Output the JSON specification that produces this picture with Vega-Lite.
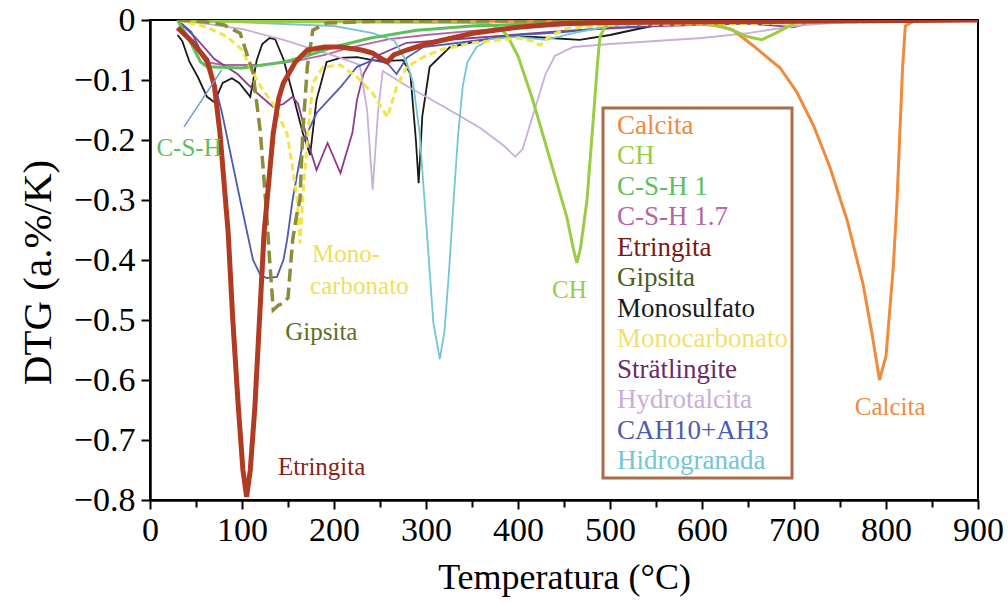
{
  "$schema": "https://vega.github.io/schema/vega-lite/v6.json",
  "width": 828,
  "height": 480,
  "autosize": {"type": "none"},
  "padding": {"left": 150, "top": 20, "right": 30, "bottom": 103},
  "background": "white",
  "config": {"view": {"stroke": "black", "strokeWidth": 2}, "font": "Liberation Serif"},
  "datasets": {
    "curves": [
      {"series":"Calcita","T":30,"v":0},{"series":"Calcita","T":200,"v":-0.001},{"series":"Calcita","T":400,"v":-0.002},{"series":"Calcita","T":550,"v":-0.004},{"series":"Calcita","T":600,"v":-0.007},{"series":"Calcita","T":620,"v":-0.01},{"series":"Calcita","T":634,"v":-0.017},{"series":"Calcita","T":655,"v":-0.042},{"series":"Calcita","T":685,"v":-0.08},{"series":"Calcita","T":703,"v":-0.12},{"series":"Calcita","T":721,"v":-0.175},{"series":"Calcita","T":739,"v":-0.245},{"series":"Calcita","T":758,"v":-0.335},{"series":"Calcita","T":775,"v":-0.44},{"series":"Calcita","T":785,"v":-0.525},{"series":"Calcita","T":793,"v":-0.6},{"series":"Calcita","T":800,"v":-0.56},{"series":"Calcita","T":808,"v":-0.41},{"series":"Calcita","T":812,"v":-0.3},{"series":"Calcita","T":815,"v":-0.19},{"series":"Calcita","T":818,"v":-0.08},{"series":"Calcita","T":821,"v":-0.01},{"series":"Calcita","T":830,"v":-0.002},{"series":"Calcita","T":900,"v":0},

      {"series":"CH","T":30,"v":-0.002},{"series":"CH","T":200,"v":-0.003},{"series":"CH","T":350,"v":-0.004},{"series":"CH","T":370,"v":-0.008},{"series":"CH","T":380,"v":-0.014},{"series":"CH","T":388,"v":-0.025},{"series":"CH","T":400,"v":-0.06},{"series":"CH","T":416,"v":-0.133},{"series":"CH","T":435,"v":-0.233},{"series":"CH","T":453,"v":-0.328},{"series":"CH","T":460,"v":-0.38},{"series":"CH","T":464,"v":-0.405},{"series":"CH","T":468,"v":-0.38},{"series":"CH","T":475,"v":-0.3},{"series":"CH","T":482,"v":-0.162},{"series":"CH","T":486,"v":-0.08},{"series":"CH","T":489,"v":-0.028},{"series":"CH","T":495,"v":-0.01},{"series":"CH","T":520,"v":-0.004},{"series":"CH","T":600,"v":-0.004},{"series":"CH","T":630,"v":-0.015},{"series":"CH","T":650,"v":-0.028},{"series":"CH","T":665,"v":-0.033},{"series":"CH","T":680,"v":-0.022},{"series":"CH","T":700,"v":-0.006},{"series":"CH","T":720,"v":-0.002},{"series":"CH","T":900,"v":0},

      {"series":"C-S-H 1","T":30,"v":0},{"series":"C-S-H 1","T":45,"v":-0.04},{"series":"C-S-H 1","T":55,"v":-0.07},{"series":"C-S-H 1","T":62,"v":-0.078},{"series":"C-S-H 1","T":100,"v":-0.08},{"series":"C-S-H 1","T":146,"v":-0.07},{"series":"C-S-H 1","T":170,"v":-0.06},{"series":"C-S-H 1","T":200,"v":-0.045},{"series":"C-S-H 1","T":240,"v":-0.03},{"series":"C-S-H 1","T":290,"v":-0.017},{"series":"C-S-H 1","T":350,"v":-0.01},{"series":"C-S-H 1","T":450,"v":-0.005},{"series":"C-S-H 1","T":600,"v":-0.002},{"series":"C-S-H 1","T":900,"v":0},

      {"series":"C-S-H 1.7","T":30,"v":0},{"series":"C-S-H 1.7","T":45,"v":-0.035},{"series":"C-S-H 1.7","T":60,"v":-0.07},{"series":"C-S-H 1.7","T":80,"v":-0.075},{"series":"C-S-H 1.7","T":120,"v":-0.075},{"series":"C-S-H 1.7","T":160,"v":-0.068},{"series":"C-S-H 1.7","T":190,"v":-0.058},{"series":"C-S-H 1.7","T":220,"v":-0.045},{"series":"C-S-H 1.7","T":260,"v":-0.032},{"series":"C-S-H 1.7","T":300,"v":-0.025},{"series":"C-S-H 1.7","T":350,"v":-0.018},{"series":"C-S-H 1.7","T":400,"v":-0.012},{"series":"C-S-H 1.7","T":500,"v":-0.006},{"series":"C-S-H 1.7","T":600,"v":-0.003},{"series":"C-S-H 1.7","T":700,"v":-0.006},{"series":"C-S-H 1.7","T":750,"v":-0.002},{"series":"C-S-H 1.7","T":900,"v":0},

      {"series":"Etringita","T":30,"v":-0.013},{"series":"Etringita","T":45,"v":-0.035},{"series":"Etringita","T":62,"v":-0.067},{"series":"Etringita","T":70,"v":-0.11},{"series":"Etringita","T":76,"v":-0.188},{"series":"Etringita","T":85,"v":-0.355},{"series":"Etringita","T":90,"v":-0.5},{"series":"Etringita","T":96,"v":-0.645},{"series":"Etringita","T":101,"v":-0.75},{"series":"Etringita","T":105,"v":-0.795},{"series":"Etringita","T":109,"v":-0.75},{"series":"Etringita","T":114,"v":-0.645},{"series":"Etringita","T":119,"v":-0.5},{"series":"Etringita","T":124,"v":-0.355},{"series":"Etringita","T":134,"v":-0.188},{"series":"Etringita","T":140,"v":-0.13},{"series":"Etringita","T":145,"v":-0.105},{"series":"Etringita","T":158,"v":-0.07},{"series":"Etringita","T":171,"v":-0.05},{"series":"Etringita","T":190,"v":-0.045},{"series":"Etringita","T":207,"v":-0.045},{"series":"Etringita","T":230,"v":-0.05},{"series":"Etringita","T":242,"v":-0.055},{"series":"Etringita","T":250,"v":-0.063},{"series":"Etringita","T":258,"v":-0.07},{"series":"Etringita","T":265,"v":-0.058},{"series":"Etringita","T":279,"v":-0.05},{"series":"Etringita","T":300,"v":-0.04},{"series":"Etringita","T":351,"v":-0.022},{"series":"Etringita","T":400,"v":-0.012},{"series":"Etringita","T":450,"v":-0.006},{"series":"Etringita","T":500,"v":-0.004},{"series":"Etringita","T":700,"v":-0.002},{"series":"Etringita","T":900,"v":0},

      {"series":"Gipsita","T":30,"v":0},{"series":"Gipsita","T":60,"v":-0.003},{"series":"Gipsita","T":80,"v":-0.008},{"series":"Gipsita","T":98,"v":-0.022},{"series":"Gipsita","T":112,"v":-0.088},{"series":"Gipsita","T":120,"v":-0.188},{"series":"Gipsita","T":127,"v":-0.328},{"series":"Gipsita","T":130,"v":-0.4},{"series":"Gipsita","T":134,"v":-0.483},{"series":"Gipsita","T":140,"v":-0.475},{"series":"Gipsita","T":145,"v":-0.472},{"series":"Gipsita","T":150,"v":-0.463},{"series":"Gipsita","T":155,"v":-0.367},{"series":"Gipsita","T":160,"v":-0.32},{"series":"Gipsita","T":163,"v":-0.3},{"series":"Gipsita","T":166,"v":-0.188},{"series":"Gipsita","T":171,"v":-0.078},{"series":"Gipsita","T":177,"v":-0.017},{"series":"Gipsita","T":192,"v":-0.005},{"series":"Gipsita","T":250,"v":-0.002},{"series":"Gipsita","T":900,"v":0},

      {"series":"Monosulfato","T":30,"v":-0.025},{"series":"Monosulfato","T":35,"v":-0.035},{"series":"Monosulfato","T":43,"v":-0.07},{"series":"Monosulfato","T":52,"v":-0.095},{"series":"Monosulfato","T":62,"v":-0.128},{"series":"Monosulfato","T":70,"v":-0.137},{"series":"Monosulfato","T":79,"v":-0.105},{"series":"Monosulfato","T":89,"v":-0.097},{"series":"Monosulfato","T":97,"v":-0.105},{"series":"Monosulfato","T":109,"v":-0.128},{"series":"Monosulfato","T":116,"v":-0.067},{"series":"Monosulfato","T":122,"v":-0.04},{"series":"Monosulfato","T":130,"v":-0.03},{"series":"Monosulfato","T":136,"v":-0.032},{"series":"Monosulfato","T":145,"v":-0.065},{"series":"Monosulfato","T":155,"v":-0.122},{"series":"Monosulfato","T":166,"v":-0.188},{"series":"Monosulfato","T":174,"v":-0.225},{"series":"Monosulfato","T":181,"v":-0.133},{"series":"Monosulfato","T":192,"v":-0.07},{"series":"Monosulfato","T":207,"v":-0.063},{"series":"Monosulfato","T":225,"v":-0.062},{"series":"Monosulfato","T":242,"v":-0.067},{"series":"Monosulfato","T":258,"v":-0.068},{"series":"Monosulfato","T":275,"v":-0.067},{"series":"Monosulfato","T":283,"v":-0.09},{"series":"Monosulfato","T":289,"v":-0.2},{"series":"Monosulfato","T":292,"v":-0.272},{"series":"Monosulfato","T":296,"v":-0.16},{"series":"Monosulfato","T":304,"v":-0.078},{"series":"Monosulfato","T":326,"v":-0.045},{"series":"Monosulfato","T":351,"v":-0.037},{"series":"Monosulfato","T":380,"v":-0.028},{"series":"Monosulfato","T":416,"v":-0.028},{"series":"Monosulfato","T":435,"v":-0.03},{"series":"Monosulfato","T":467,"v":-0.033},{"series":"Monosulfato","T":500,"v":-0.025},{"series":"Monosulfato","T":530,"v":-0.015},{"series":"Monosulfato","T":562,"v":-0.005},{"series":"Monosulfato","T":600,"v":-0.002},{"series":"Monosulfato","T":900,"v":0},

      {"series":"Monocarbonato","T":30,"v":0},{"series":"Monocarbonato","T":62,"v":-0.012},{"series":"Monocarbonato","T":84,"v":-0.028},{"series":"Monocarbonato","T":100,"v":-0.05},{"series":"Monocarbonato","T":111,"v":-0.085},{"series":"Monocarbonato","T":122,"v":-0.115},{"series":"Monocarbonato","T":134,"v":-0.14},{"series":"Monocarbonato","T":149,"v":-0.19},{"series":"Monocarbonato","T":155,"v":-0.245},{"series":"Monocarbonato","T":160,"v":-0.3},{"series":"Monocarbonato","T":163,"v":-0.372},{"series":"Monocarbonato","T":166,"v":-0.3},{"series":"Monocarbonato","T":171,"v":-0.2},{"series":"Monocarbonato","T":177,"v":-0.105},{"series":"Monocarbonato","T":188,"v":-0.078},{"series":"Monocarbonato","T":207,"v":-0.075},{"series":"Monocarbonato","T":225,"v":-0.095},{"series":"Monocarbonato","T":242,"v":-0.122},{"series":"Monocarbonato","T":258,"v":-0.162},{"series":"Monocarbonato","T":268,"v":-0.112},{"series":"Monocarbonato","T":279,"v":-0.078},{"series":"Monocarbonato","T":297,"v":-0.062},{"series":"Monocarbonato","T":315,"v":-0.05},{"series":"Monocarbonato","T":351,"v":-0.038},{"series":"Monocarbonato","T":400,"v":-0.03},{"series":"Monocarbonato","T":415,"v":-0.035},{"series":"Monocarbonato","T":424,"v":-0.042},{"series":"Monocarbonato","T":432,"v":-0.03},{"series":"Monocarbonato","T":450,"v":-0.015},{"series":"Monocarbonato","T":500,"v":-0.008},{"series":"Monocarbonato","T":700,"v":-0.005},{"series":"Monocarbonato","T":800,"v":-0.003},{"series":"Monocarbonato","T":900,"v":0},

      {"series":"Strätlingite","T":30,"v":0},{"series":"Strätlingite","T":50,"v":-0.03},{"series":"Strätlingite","T":70,"v":-0.065},{"series":"Strätlingite","T":95,"v":-0.09},{"series":"Strätlingite","T":115,"v":-0.12},{"series":"Strätlingite","T":134,"v":-0.145},{"series":"Strätlingite","T":145,"v":-0.14},{"series":"Strätlingite","T":155,"v":-0.128},{"series":"Strätlingite","T":161,"v":-0.14},{"series":"Strätlingite","T":172,"v":-0.205},{"series":"Strätlingite","T":181,"v":-0.25},{"series":"Strätlingite","T":193,"v":-0.205},{"series":"Strätlingite","T":207,"v":-0.255},{"series":"Strätlingite","T":220,"v":-0.188},{"series":"Strätlingite","T":225,"v":-0.133},{"series":"Strätlingite","T":232,"v":-0.09},{"series":"Strätlingite","T":242,"v":-0.063},{"series":"Strätlingite","T":279,"v":-0.038},{"series":"Strätlingite","T":351,"v":-0.03},{"series":"Strätlingite","T":450,"v":-0.018},{"series":"Strätlingite","T":550,"v":-0.01},{"series":"Strätlingite","T":650,"v":-0.006},{"series":"Strätlingite","T":700,"v":-0.012},{"series":"Strätlingite","T":720,"v":-0.004},{"series":"Strätlingite","T":900,"v":0},

      {"series":"Hydrotalcita","T":30,"v":0},{"series":"Hydrotalcita","T":60,"v":-0.006},{"series":"Hydrotalcita","T":100,"v":-0.015},{"series":"Hydrotalcita","T":145,"v":-0.033},{"series":"Hydrotalcita","T":207,"v":-0.063},{"series":"Hydrotalcita","T":228,"v":-0.075},{"series":"Hydrotalcita","T":236,"v":-0.15},{"series":"Hydrotalcita","T":242,"v":-0.283},{"series":"Hydrotalcita","T":248,"v":-0.15},{"series":"Hydrotalcita","T":253,"v":-0.085},{"series":"Hydrotalcita","T":279,"v":-0.11},{"series":"Hydrotalcita","T":320,"v":-0.145},{"series":"Hydrotalcita","T":359,"v":-0.18},{"series":"Hydrotalcita","T":385,"v":-0.21},{"series":"Hydrotalcita","T":397,"v":-0.228},{"series":"Hydrotalcita","T":405,"v":-0.215},{"series":"Hydrotalcita","T":418,"v":-0.15},{"series":"Hydrotalcita","T":430,"v":-0.09},{"series":"Hydrotalcita","T":440,"v":-0.06},{"series":"Hydrotalcita","T":460,"v":-0.045},{"series":"Hydrotalcita","T":500,"v":-0.04},{"series":"Hydrotalcita","T":550,"v":-0.035},{"series":"Hydrotalcita","T":600,"v":-0.03},{"series":"Hydrotalcita","T":650,"v":-0.022},{"series":"Hydrotalcita","T":700,"v":-0.01},{"series":"Hydrotalcita","T":750,"v":-0.004},{"series":"Hydrotalcita","T":900,"v":0},

      {"series":"CAH10+AH3","T":30,"v":0},{"series":"CAH10+AH3","T":45,"v":-0.02},{"series":"CAH10+AH3","T":60,"v":-0.067},{"series":"CAH10+AH3","T":71,"v":-0.11},{"series":"CAH10+AH3","T":79,"v":-0.16},{"series":"CAH10+AH3","T":98,"v":-0.3},{"series":"CAH10+AH3","T":112,"v":-0.4},{"series":"CAH10+AH3","T":120,"v":-0.425},{"series":"CAH10+AH3","T":127,"v":-0.43},{"series":"CAH10+AH3","T":138,"v":-0.428},{"series":"CAH10+AH3","T":145,"v":-0.4},{"series":"CAH10+AH3","T":149,"v":-0.367},{"series":"CAH10+AH3","T":155,"v":-0.3},{"series":"CAH10+AH3","T":166,"v":-0.205},{"series":"CAH10+AH3","T":181,"v":-0.155},{"series":"CAH10+AH3","T":207,"v":-0.112},{"series":"CAH10+AH3","T":225,"v":-0.078},{"series":"CAH10+AH3","T":242,"v":-0.067},{"series":"CAH10+AH3","T":258,"v":-0.072},{"series":"CAH10+AH3","T":268,"v":-0.09},{"series":"CAH10+AH3","T":279,"v":-0.063},{"series":"CAH10+AH3","T":297,"v":-0.045},{"series":"CAH10+AH3","T":351,"v":-0.035},{"series":"CAH10+AH3","T":400,"v":-0.025},{"series":"CAH10+AH3","T":450,"v":-0.02},{"series":"CAH10+AH3","T":500,"v":-0.012},{"series":"CAH10+AH3","T":600,"v":-0.005},{"series":"CAH10+AH3","T":700,"v":-0.003},{"series":"CAH10+AH3","T":900,"v":0},

      {"series":"Hidrogranada","T":30,"v":0},{"series":"Hidrogranada","T":100,"v":-0.004},{"series":"Hidrogranada","T":200,"v":-0.01},{"series":"Hidrogranada","T":242,"v":-0.022},{"series":"Hidrogranada","T":266,"v":-0.035},{"series":"Hidrogranada","T":279,"v":-0.07},{"series":"Hidrogranada","T":286,"v":-0.105},{"series":"Hidrogranada","T":293,"v":-0.188},{"series":"Hidrogranada","T":301,"v":-0.355},{"series":"Hidrogranada","T":308,"v":-0.505},{"series":"Hidrogranada","T":315,"v":-0.565},{"series":"Hidrogranada","T":320,"v":-0.52},{"series":"Hidrogranada","T":325,"v":-0.42},{"series":"Hidrogranada","T":330,"v":-0.3},{"series":"Hidrogranada","T":335,"v":-0.19},{"series":"Hidrogranada","T":340,"v":-0.11},{"series":"Hidrogranada","T":345,"v":-0.07},{"series":"Hidrogranada","T":355,"v":-0.045},{"series":"Hidrogranada","T":370,"v":-0.032},{"series":"Hidrogranada","T":400,"v":-0.028},{"series":"Hidrogranada","T":430,"v":-0.033},{"series":"Hidrogranada","T":460,"v":-0.022},{"series":"Hidrogranada","T":500,"v":-0.01},{"series":"Hidrogranada","T":600,"v":-0.003},{"series":"Hidrogranada","T":900,"v":0}
    ],
    "notes": [
      {"series":"C-S-H 1","label":"C-S-H","T":7,"v":-0.213},
      {"series":"Monocarbonato","label":"Mono-","T":176,"v":-0.39},
      {"series":"Monocarbonato","label":"carbonato","T":174,"v":-0.443},
      {"series":"Gipsita","label":"Gipsita","T":147,"v":-0.52},
      {"series":"Etringita","label":"Etringita","T":139,"v":-0.745},
      {"series":"CH","label":"CH","T":437,"v":-0.45},
      {"series":"Calcita","label":"Calcita","T":766,"v":-0.645}
    ],
    "pointer": [
      {"T":37,"v":-0.178,"T2":78,"v2":-0.083}
    ]
  },
  "encoding": {
    "x": {
      "field": "T", "type": "quantitative",
      "scale": {"domain": [0, 900], "nice": false, "zero": false},
      "axis": {
        "title": "Temperatura (°C)",
        "values": [0,50,100,150,200,250,300,350,400,450,500,550,600,650,700,750,800,850,900],
        "labelExpr": "datum.value % 100 === 0 ? format(datum.value, 'd') : ''",
        "labelFlush": false, "labelOverlap": false,
        "labelFont": "Liberation Serif", "labelFontSize": 34, "labelColor": "black", "labelPadding": 4,
        "titleFont": "Liberation Serif", "titleFontSize": 36, "titleFontWeight": "normal", "titleColor": "black", "titlePadding": 13,
        "tickSize": {"condition": {"test": "datum.value % 100 === 0", "value": 9}, "value": 7},
        "tickWidth": 2, "tickColor": "black", "domainColor": "black", "domainWidth": 2.5, "grid": false
      }
    },
    "y": {
      "field": "v", "type": "quantitative",
      "scale": {"domain": [-0.8, 0], "nice": false, "zero": false},
      "axis": {
        "title": "DTG (a.%/K)",
        "values": [-0.8,-0.7,-0.6,-0.5,-0.4,-0.3,-0.2,-0.1,0],
        "labelExpr": "datum.value === 0 ? '0' : format(datum.value, '.1f')",
        "labelFont": "Liberation Serif", "labelFontSize": 34, "labelColor": "black", "labelPadding": 6,
        "titleFont": "Liberation Serif", "titleFontSize": 41, "titleFontWeight": "normal", "titleColor": "black", "titlePadding": 14, "titleY": 252,
        "tickSize": 9, "tickWidth": 2, "tickColor": "black", "domainColor": "black", "domainWidth": 2.5, "grid": false
      }
    }
  },
  "layer": [
    {
      "data": {"name": "curves"},
      "transform": [{"filter": {"field": "series", "oneOf": ["Hydrotalcita","C-S-H 1.7","Strätlingite","CAH10+AH3","Hidrogranada","Monosulfato"]}}],
      "mark": {"type": "line", "strokeWidth": 1.8, "clip": true},
      "encoding": {
        "color": {
          "field": "series", "type": "nominal",
          "scale": {
            "domain": ["Calcita","CH","C-S-H 1","C-S-H 1.7","Etringita","Gipsita","Monosulfato","Monocarbonato","Strätlingite","Hydrotalcita","CAH10+AH3","Hidrogranada"],
            "range": ["#f08a3c","#9acd45","#5cbf5c","#b565a7","#b03a22","#8c8c3a","#1a1a1a","#f2e446","#8e3a8e","#c8aed8","#4b5bb5","#72c6d6"]
          },
          "legend": {
            "title": null, "orient": "none", "legendX": 453, "legendY": 88,
            "symbolSize": 0, "symbolStrokeWidth": 0, "symbolOpacity": 0,
            "labelOffset": -17, "labelFont": "Liberation Serif", "labelFontSize": 27, "labelLimit": 400,
            "rowPadding": 2.5, "padding": 4,
            "strokeColor": "#a86c48", "fillColor": "white",
            "encode": {
              "legend": {"update": {"strokeWidth": {"value": 3}}},
              "labels": {"update": {"fill": {"signal": "datum.value === 'Etringita' ? '#7a1a14' : datum.value === 'Gipsita' ? '#4a5f1a' : datum.value === 'Strätlingite' ? '#6a2a6a' : datum.value === 'Monocarbonato' ? '#f0e070' : scale('color', datum.value)"}}}
            }
          }
        }
      }
    },
    {
      "data": {"name": "curves"},
      "transform": [{"filter": {"field": "series", "oneOf": ["C-S-H 1","CH","Calcita"]}}],
      "mark": {"type": "line", "strokeWidth": 3, "clip": true},
      "encoding": {"color": {"field": "series", "type": "nominal"}}
    },
    {
      "data": {"name": "curves"},
      "transform": [{"filter": {"field": "series", "equal": "Monocarbonato"}}],
      "mark": {"type": "line", "strokeWidth": 3, "strokeDash": [7, 4], "clip": true},
      "encoding": {"color": {"field": "series", "type": "nominal"}}
    },
    {
      "data": {"name": "curves"},
      "transform": [{"filter": {"field": "series", "equal": "Gipsita"}}],
      "mark": {"type": "line", "strokeWidth": 3.5, "strokeDash": [13, 6], "clip": true},
      "encoding": {"color": {"field": "series", "type": "nominal"}}
    },
    {
      "data": {"name": "curves"},
      "transform": [{"filter": {"field": "series", "equal": "Etringita"}}],
      "mark": {"type": "line", "strokeWidth": 5, "clip": true},
      "encoding": {"color": {"field": "series", "type": "nominal"}}
    },
    {
      "data": {"name": "pointer"},
      "mark": {"type": "rule", "color": "#6f9bd1", "strokeWidth": 1.5},
      "encoding": {"x2": {"field": "T2"}, "y2": {"field": "v2"}}
    },
    {
      "data": {"name": "notes"},
      "mark": {"type": "text", "align": "left", "baseline": "middle", "font": "Liberation Serif", "fontSize": 25},
      "encoding": {
        "text": {"field": "label"},
        "color": {
          "condition": [
            {"test": "datum.series === 'Etringita'", "value": "#8a1f18"},
            {"test": "datum.series === 'Gipsita'", "value": "#5f6e22"},
            {"test": "datum.series === 'Monocarbonato'", "value": "#f0df5a"}
          ],
          "field": "series", "type": "nominal"
        }
      }
    }
  ]
}
